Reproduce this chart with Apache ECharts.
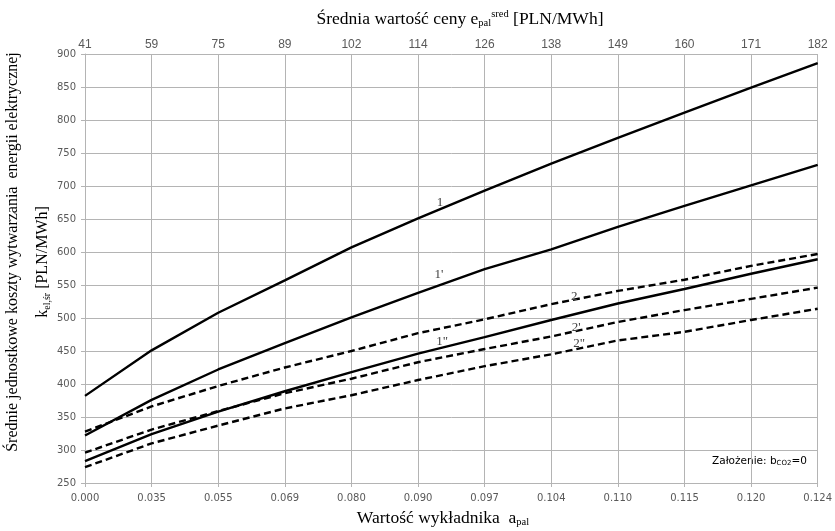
<!DOCTYPE html>
<html>
<head>
<meta charset="utf-8">
<script src="https://cdn.jsdelivr.net/npm/echarts@6/dist/echarts.min.js"></script>
<style>html,body{margin:0;padding:0;background:#fff}#c{width:835px;height:531px}</style>
</head>
<body>
<div id="c"></div>
<script>
// Data
const categories = ['0.000','0.035','0.055','0.069','0.080','0.090','0.097','0.104','0.110','0.115','0.120','0.124'];
const topLabels = ['41','59','75','89','102','114','126','138','149','160','171','182'];
const s1   = [382, 451, 508, 557, 607, 651, 693, 734, 773, 811, 849, 886];
const s1p  = [322, 376, 422, 462, 501, 538, 574, 604, 638, 670, 701, 732];
const s1pp = [283, 324, 358, 389, 418, 446, 471, 497, 522, 544, 567, 589];
const s2   = [328, 366, 397, 425, 450, 477, 498, 521, 541, 558, 579, 597];
const s2p  = [296, 331, 359, 386, 408, 433, 453, 472, 494, 512, 529, 546];
const s2pp = [274, 310, 337, 363, 383, 406, 427, 445, 466, 479, 497, 514];
const yTicks = {min: 250, max: 900, step: 50};

const serif = '"Liberation Serif", "Times New Roman", serif';
const sans = '"DejaVu Sans", Verdana, sans-serif';

function mk(name, values, dashed, labelText, idx, offset) {
  return {
    name: name,
    type: 'line',
    data: values,
    showSymbol: false,
    symbol: 'none',
    animation: false,
    lineStyle: {color: '#000', width: 2.4, type: dashed ? [7, 4] : 'solid'},
    markPoint: {
      symbol: 'rect', symbolSize: 1,
      itemStyle: {color: 'rgba(0,0,0,0)'},
      label: {show: true, position: 'inside', offset: offset, formatter: labelText,
              fontFamily: serif, fontSize: 13, color: '#404040'},
      data: [{coord: [categories[idx], values[idx]]}]
    }
  };
}

const chart = echarts.init(document.getElementById('c'), null, {renderer: 'canvas'});
const gridColor = '#b4b4b4';
chart.setOption({
  animation: false,
  backgroundColor: '#fff',
  grid: {left: 85, right: 17, top: 54, bottom: 48},
  xAxis: [
    {
      type: 'category', data: categories, boundaryGap: false, position: 'bottom',
      axisLine: {lineStyle: {color: gridColor}},
      axisTick: {show: true, length: 4, lineStyle: {color: gridColor}},
      axisLabel: {fontFamily: sans, fontSize: 10, color: '#595959', margin: 10},
      splitLine: {show: true, lineStyle: {color: gridColor, width: 1}}
    },
    {
      type: 'category', data: topLabels, boundaryGap: false, position: 'top',
      axisLine: {show: false}, axisTick: {show: false},
      axisLabel: {fontFamily: '"Liberation Sans Narrow", "Liberation Sans", Arial, sans-serif', fontSize: 12, color: '#595959', margin: 3},
      splitLine: {show: false}
    }
  ],
  yAxis: {
    type: 'value', min: yTicks.min, max: yTicks.max, interval: yTicks.step,
    axisLine: {show: true, lineStyle: {color: gridColor}},
    axisTick: {show: true, length: 4, lineStyle: {color: gridColor}},
    axisLabel: {fontFamily: sans, fontSize: 10, color: '#595959', margin: 9},
    splitLine: {show: true, lineStyle: {color: gridColor, width: 1}}
  },
  series: [
    mk('1', s1, false, '1', 5, [22, -16]),
    mk("1'", s1p, false, "1'", 5, [21, -18]),
    mk('1"', s1pp, false, '1"', 5, [24, -12]),
    mk('2', s2, true, '2', 7, [23, -8]),
    mk("2'", s2p, true, "2'", 7, [25, -9]),
    mk('2"', s2pp, true, '2"', 7, [28, -11])
  ],
  graphic: [
    {
      type: 'text', x: 460, y: 19,
      style: {
        text: '{t|Średnia wartość ceny e}{sub|pal}{sup|sred}{t| [PLN/MWh]}',
        align: 'center', verticalAlign: 'middle',
        rich: {
          t: {fontFamily: serif, fontSize: 17.5, color: '#262626', lineHeight: 22},
          sub: {fontFamily: serif, fontSize: 10.5, color: '#262626', lineHeight: 22, padding: [8, 0, 0, 0]},
          sup: {fontFamily: serif, fontSize: 10.5, color: '#262626', lineHeight: 22, padding: [0, 0, 10, 0]}
        }
      }
    },
    {
      type: 'text', x: 443, y: 518,
      style: {
        text: '{t|Wartość wykładnika  a}{sub|pal}',
        align: 'center', verticalAlign: 'middle',
        rich: {
          t: {fontFamily: serif, fontSize: 17.5, color: '#262626', lineHeight: 22},
          sub: {fontFamily: serif, fontSize: 10.5, color: '#262626', lineHeight: 22, padding: [9, 0, 0, 0]}
        }
      }
    },
    {
      type: 'text', x: 13, y: 252, rotation: Math.PI / 2,
      style: {
        text: '{t|Średnie jednostkowe koszty wytwarzania  energii elektrycznej}',
        align: 'center', verticalAlign: 'middle',
        rich: {t: {fontFamily: serif, fontSize: 16, color: '#262626'}}
      }
    },
    {
      type: 'text', x: 43, y: 262, rotation: Math.PI / 2,
      style: {
        text: '{t|k}{sub|el,śr}{t| [PLN/MWh]}',
        align: 'center', verticalAlign: 'middle',
        rich: {
          t: {fontFamily: serif, fontSize: 16, color: '#262626', lineHeight: 22},
          sub: {fontFamily: serif, fontSize: 10, color: '#262626', lineHeight: 22, padding: [8, 0, 0, 0]}
        }
      }
    },
    {
      type: 'text', x: 712, y: 461,
      style: {
        text: '{t|Założenie: b}{sub|CO2}{t|=0}',
        verticalAlign: 'middle',
        rich: {
          t: {fontFamily: sans, fontSize: 10.5, color: '#333', lineHeight: 18},
          sub: {fontFamily: sans, fontSize: 7, color: '#333', lineHeight: 18, padding: [5, 0, 0, 0]}
        }
      }
    }
  ]
});
</script>
</body>
</html>
